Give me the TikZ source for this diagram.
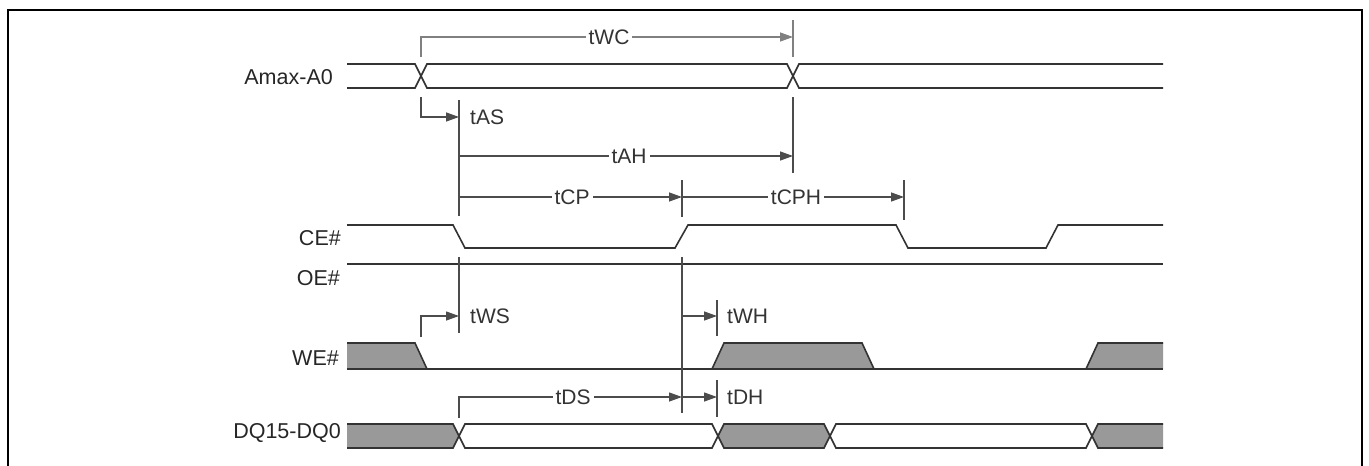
\documentclass[tikz,border=0pt]{standalone}
\usepackage{fontspec}
\setmainfont{Liberation Sans}
\usetikzlibrary{arrows.meta}
\begin{document}
\begin{tikzpicture}[x=1pt,y=-1pt,
  sig/.style={draw=black!80, line width=1.6pt, line join=miter},
  busfill/.style={fill=black!40},
  dim/.style={draw=black!70, line width=1.3pt},
  dimlight/.style={draw=black!50, line width=1.3pt},
  arr/.style={-{Triangle[length=13pt,width=9pt]}},
  lbl/.style={font=\fontsize{21.5}{25}\selectfont, text=black!85, inner sep=0pt},
  tlbl/.style={font=\fontsize{21}{25}\selectfont, text=black!80, fill=white, inner sep=3pt}]
\useasboundingbox (0,0) rectangle (1369,466);
\draw[line width=2.2pt] (8,466) -- (8,10) -- (1362,10) -- (1362,466);

% signal names
\node[lbl, anchor=east] (nA) at (333,77) {Amax-A0};
\node[lbl, anchor=east] (nCE) at (341,238) {CE\#};
\node[lbl, anchor=east] (nOE) at (340,278) {OE\#};
\node[lbl, anchor=east] (nWE) at (339,358) {WE\#};
\node[lbl, anchor=east] (nDQ) at (341,433) {DQ15-DQ0};

% Amax-A0
\draw[sig] (347,64) -- (415,64) -- (427,88) -- (787,88) -- (799,64) -- (1163,64);
\draw[sig] (347,88) -- (415,88) -- (427,64) -- (787,64) -- (799,88) -- (1163,88);

% CE#
\draw[sig] (347,225) -- (453,225) -- (465,248) -- (675,248) -- (688,225) -- (896,225) -- (908,248) -- (1046,248) -- (1058,225) -- (1163,225);

% OE#
\draw[sig] (347,264) -- (1163,264);

% WE#
\fill[busfill] (347,343) -- (415,343) -- (427,369) -- (347,369) -- cycle;
\fill[busfill] (712,369) -- (724,343) -- (862,343) -- (874,369) -- cycle;
\fill[busfill] (1086,369) -- (1098,343) -- (1163,343) -- (1163,369) -- cycle;
\draw[sig] (347,343) -- (415,343) -- (427,369);
\draw[sig] (712,369) -- (724,343) -- (862,343) -- (874,369);
\draw[sig] (1086,369) -- (1098,343) -- (1163,343);
\draw[sig] (347,369) -- (1163,369);

% DQ15-DQ0
\fill[busfill] (347,424) -- (453,424) -- (459,436) -- (453,448) -- (347,448) -- cycle;
\fill[busfill] (718,436) -- (724,424) -- (824,424) -- (830,436) -- (824,448) -- (724,448) -- cycle;
\fill[busfill] (1092,436) -- (1098,424) -- (1163,424) -- (1163,448) -- (1098,448) -- cycle;
\draw[sig] (347,424) -- (453,424) -- (465,448) -- (712,448) -- (724,424) -- (824,424) -- (836,448) -- (1086,448) -- (1098,424) -- (1163,424);
\draw[sig] (347,448) -- (453,448) -- (465,424) -- (712,424) -- (724,448) -- (824,448) -- (836,424) -- (1086,424) -- (1098,448) -- (1163,448);

% tWC
\draw[dimlight, arr] (421,57) -- (421,37) -- (793,37);
\draw[dimlight] (793,20) -- (793,57);
\node[tlbl] (tWC) at (609,37) {tWC};

% tAS
\draw[dim, arr] (421,97) -- (421,117) -- (459,117);
\draw[dim] (459,100) -- (459,216);
\node[tlbl, anchor=west, inner sep=0pt] (tAS) at (470,117) {tAS};

% tAH
\draw[dim, arr] (459,156) -- (793,156);
\draw[dim] (793,97) -- (793,173);
\node[tlbl] (tAH) at (629,156) {tAH};

% tCP / tCPH
\draw[dim, arr] (459,197) -- (682,197);
\draw[dim] (682,180) -- (682,217);
\node[tlbl] (tCP) at (572,197) {tCP};
\draw[dim, arr] (682,197) -- (904,197);
\draw[dim] (904,180) -- (904,220);
\node[tlbl] (tCPH) at (796,197) {tCPH};

% verticals through OE#
\draw[dim] (459,257) -- (459,333);
\draw[dim] (682,257) -- (682,413);

% tWS
\draw[dim, arr] (421,337) -- (421,316) -- (459,316);
\node[tlbl, anchor=west, inner sep=0pt] (tWS) at (470,316) {tWS};

% tWH
\draw[dim, arr] (682,316) -- (717,316);
\draw[dim] (717,300) -- (717,336);
\node[tlbl, anchor=west, inner sep=0pt] (tWH) at (727,316) {tWH};

% tDS / tDH
\draw[dim, arr] (459,418) -- (459,397) -- (682,397);
\node[tlbl] (tDS) at (573,397) {tDS};
\draw[dim, arr] (682,397) -- (717,397);
\draw[dim] (717,380) -- (717,417);
\node[tlbl, anchor=west, inner sep=0pt] (tDH) at (727,397) {tDH};
\end{tikzpicture}
\end{document}
